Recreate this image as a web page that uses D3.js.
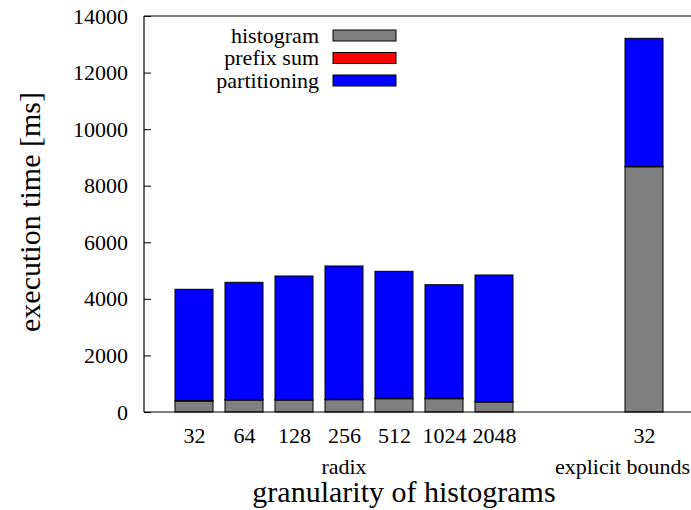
<!DOCTYPE html>
<html>
<head>
<meta charset="utf-8">
<script src="https://cdn.jsdelivr.net/npm/d3@7"></script>
<style>
  html, body { margin: 0; padding: 0; background: #fff; }
  svg { display: block; }
  svg text { font-family: "Liberation Serif", "Times New Roman", serif; fill: #000; }
</style>
</head>
<body>
<svg id="chart" width="691" height="510"></svg>
<script>
// Histogram granularities (radix) and the explicit-bounds variant
const radixLabels = ["32", "64", "128", "256", "512", "1024", "2048"];
const boundsLabels = ["32"];
const groupNames = ["radix", "explicit bounds"];

// Execution time per phase, in ms (radix bars first, then explicit bounds)
const histogramMs    = [389, 424, 424, 435, 470, 470, 354, 8670];
const prefixSumMs    = [15, 15, 15, 15, 15, 15, 15, 10];
const partitioningMs = [3934, 4146, 4369, 4712, 4489, 4015, 4474, 4531];

const seriesNames = ["histogram", "prefix sum", "partitioning"];
const seriesColors = ["#808080", "#ff0000", "#0000ff"];
const yTicks = [0, 2000, 4000, 6000, 8000, 10000, 12000, 14000];

// Build bar records; explicit-bounds bars sit after a two-slot gap
const labels = radixLabels.concat(boundsLabels);
const slotOf = i => i < radixLabels.length ? i : i + 2;
const rows = labels.map((lab, i) => ({
  label: lab,
  slot: slotOf(i),
  "histogram": histogramMs[i],
  "prefix sum": prefixSumMs[i],
  "partitioning": partitioningMs[i]
}));
const stacked = d3.stack().keys(seriesNames)(rows);

const svg = d3.select("#chart");
const margin = { left: 144, top: 16, bottom: 412, right: 694 };
const serif = '"Liberation Serif", "Times New Roman", serif';

const x = d3.scaleLinear().domain([-1, 10]).range([margin.left, margin.right]);
const y = d3.scaleLinear().domain([0, 14000]).range([margin.bottom, margin.top]);
const barW = (x(1) - x(0)) * 0.76;

// Stacked bars
const color = d3.scaleOrdinal().domain(seriesNames).range(seriesColors);
svg.append("g").selectAll("g")
  .data(stacked)
  .join("g")
  .attr("fill", d => color(d.key))
  .selectAll("rect")
  .data(d => d)
  .join("rect")
  .attr("x", d => x(d.data.slot) - barW / 2)
  .attr("width", barW)
  .attr("y", d => y(d[1]))
  .attr("height", d => Math.max(0, y(d[0]) - y(d[1])))
  .attr("stroke", "#000")
  .attr("stroke-width", 1);

// Y axis with inward ticks
const yAxis = svg.append("g")
  .attr("transform", `translate(${margin.left},0)`)
  .call(d3.axisLeft(y).tickValues(yTicks).tickFormat(d3.format("d"))
    .tickSizeInner(-7).tickSizeOuter(0).tickPadding(16));
yAxis.select(".domain").remove();
yAxis.selectAll("line").attr("stroke", "#000");
yAxis.selectAll("text").attr("font-size", 22).style("font-family", serif).attr("fill", "#000");

// X axis labels (no tick marks)
const xAxis = svg.append("g")
  .attr("transform", `translate(0,${margin.bottom})`)
  .call(d3.axisBottom(x).tickValues(rows.map(r => r.slot))
    .tickFormat((d, i) => labels[i]).tickSize(0).tickPadding(15));
xAxis.select(".domain").remove();
xAxis.selectAll("text").attr("font-size", 22).style("font-family", serif).attr("fill", "#000");

// Group captions beneath the tick labels
svg.append("text")
  .attr("x", x(3)).attr("y", 474)
  .attr("text-anchor", "middle")
  .attr("font-size", 22)
  .text(groupNames[0]);
svg.append("text")
  .attr("x", 690).attr("y", 474)
  .attr("text-anchor", "end")
  .attr("font-size", 22)
  .text(groupNames[1]);

// Frame: left, top, bottom
const frame = svg.append("g").attr("stroke", "#000").attr("stroke-width", 1.2).attr("fill", "none");
frame.append("line").attr("x1", margin.left).attr("x2", margin.left).attr("y1", margin.top).attr("y2", margin.bottom);
frame.append("line").attr("x1", margin.left).attr("x2", margin.right).attr("y1", margin.top).attr("y2", margin.top);
frame.append("line").attr("x1", margin.left).attr("x2", margin.right).attr("y1", margin.bottom).attr("y2", margin.bottom);

// Axis titles
svg.append("text")
  .attr("x", 404).attr("y", 502)
  .attr("text-anchor", "middle")
  .attr("font-size", 30)
  .text("granularity of histograms");
svg.append("text")
  .attr("transform", "translate(40,212) rotate(-90)")
  .attr("text-anchor", "middle")
  .attr("font-size", 30)
  .text("execution time [ms]");

// Legend
const legend = svg.append("g").selectAll("g")
  .data(seriesNames)
  .join("g")
  .attr("transform", (d, i) => `translate(0,${35.5 + i * 22.5})`);
legend.append("text")
  .attr("x", 319).attr("dy", "0.33em")
  .attr("text-anchor", "end")
  .attr("font-size", 22)
  .text(d => d);
legend.append("rect")
  .attr("x", 333).attr("y", -5.5)
  .attr("width", 63).attr("height", 11)
  .attr("fill", d => color(d))
  .attr("stroke", "#000").attr("stroke-width", 1);
</script>
</body>
</html>
